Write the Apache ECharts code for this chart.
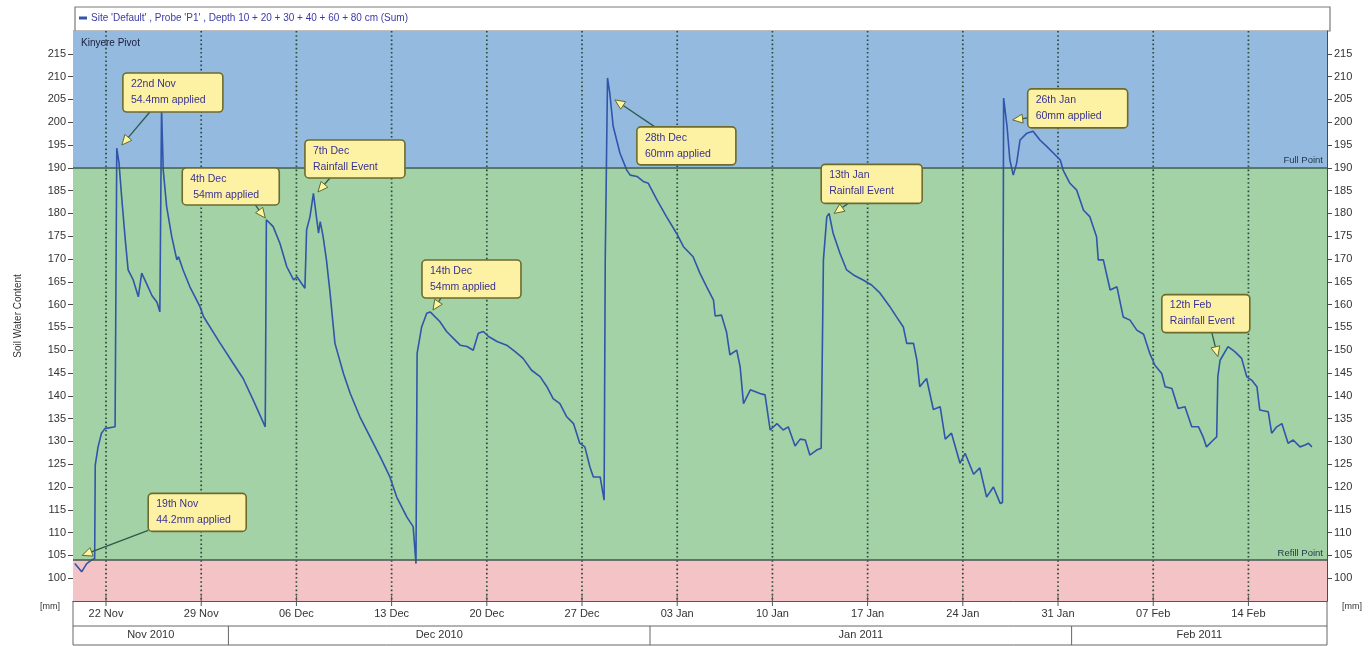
<!DOCTYPE html>
<html><head><meta charset="utf-8">
<script src="https://cdn.jsdelivr.net/npm/echarts@6/dist/echarts.min.js"></script>
<style>html,body{margin:0;padding:0;background:#fff}#c{width:1372px;height:646px}</style>
</head><body><div id="c"></div>
<script>
// ---------- data ----------
const swcTimes = [
'2010-11-19 17:00','2010-11-20 05:00','2010-11-20 14:00','2010-11-20 23:00','2010-11-21 04:00','2010-11-21 05:00','2010-11-21 10:00','2010-11-21 16:00','2010-11-21 22:00','2010-11-22 16:00',
'2010-11-22 18:00','2010-11-22 19:00','2010-11-22 23:00','2010-11-23 04:00','2010-11-23 10:00','2010-11-23 15:00','2010-11-24 00:00','2010-11-24 09:00','2010-11-24 15:00','2010-11-25 00:00',
'2010-11-25 09:00','2010-11-25 18:00','2010-11-25 23:00','2010-11-26 02:00','2010-11-26 05:00','2010-11-26 11:00','2010-11-26 20:00','2010-11-27 05:00','2010-11-27 08:00','2010-11-27 16:00',
'2010-11-28 04:00','2010-11-28 16:00','2010-11-28 22:00','2010-11-29 04:00','2010-11-30 09:00','2010-12-01 08:00','2010-12-02 02:00','2010-12-02 20:00','2010-12-03 17:00','2010-12-03 19:00',
'2010-12-04 07:00','2010-12-04 19:00','2010-12-05 07:00','2010-12-05 19:00','2010-12-06 01:00','2010-12-06 15:00','2010-12-06 18:00','2010-12-07 00:00','2010-12-07 06:00','2010-12-07 12:00',
'2010-12-07 15:00','2010-12-07 18:00','2010-12-07 23:00','2010-12-08 05:00','2010-12-08 11:00','2010-12-08 20:00','2010-12-09 11:00','2010-12-09 23:00','2010-12-10 16:00','2010-12-11 10:00',
'2010-12-12 04:00','2010-12-12 21:00','2010-12-13 09:00','2010-12-14 03:00','2010-12-14 14:00','2010-12-14 19:00','2010-12-14 21:00','2010-12-15 05:00','2010-12-15 14:00','2010-12-15 20:00',
'2010-12-16 13:00','2010-12-17 01:00','2010-12-17 13:00','2010-12-18 01:00','2010-12-18 13:00','2010-12-19 00:00','2010-12-19 09:00','2010-12-19 18:00','2010-12-20 03:00','2010-12-20 18:00',
'2010-12-21 11:00','2010-12-22 02:00','2010-12-22 16:00','2010-12-23 07:00','2010-12-23 22:00','2010-12-24 10:00','2010-12-24 21:00','2010-12-25 09:00','2010-12-25 21:00','2010-12-26 09:00',
'2010-12-26 20:00','2010-12-27 05:00','2010-12-27 14:00','2010-12-27 20:00','2010-12-28 08:00','2010-12-28 15:00','2010-12-28 17:00','2010-12-28 21:00','2010-12-29 01:00','2010-12-29 07:00',
'2010-12-29 19:00','2010-12-30 07:00','2010-12-30 13:00','2010-12-31 01:00','2010-12-31 12:00','2010-12-31 21:00','2011-01-01 12:00','2011-01-02 05:00','2011-01-02 23:00','2011-01-03 11:00',
'2011-01-04 04:00','2011-01-04 16:00','2011-01-05 04:00','2011-01-05 16:00','2011-01-05 19:00','2011-01-06 06:00','2011-01-06 15:00','2011-01-06 21:00','2011-01-07 09:00','2011-01-07 15:00',
'2011-01-07 21:00','2011-01-08 09:00','2011-01-09 02:00','2011-01-09 11:00','2011-01-09 20:00','2011-01-10 08:00','2011-01-10 19:00','2011-01-11 04:00','2011-01-11 16:00','2011-01-12 01:00',
'2011-01-12 10:00','2011-01-12 18:00','2011-01-13 06:00','2011-01-13 14:00','2011-01-13 18:00','2011-01-14 00:00','2011-01-14 04:00','2011-01-14 11:00','2011-01-14 23:00','2011-01-15 11:00',
'2011-01-15 23:00','2011-01-16 16:00','2011-01-17 07:00','2011-01-17 22:00','2011-01-18 15:00','2011-01-19 03:00','2011-01-19 15:00','2011-01-19 21:00','2011-01-20 09:00','2011-01-20 15:00',
'2011-01-20 20:00','2011-01-21 08:00','2011-01-21 20:00','2011-01-22 08:00','2011-01-22 17:00','2011-01-23 04:00','2011-01-23 19:00','2011-01-24 04:00','2011-01-24 19:00','2011-01-25 06:00',
'2011-01-25 18:00','2011-01-26 06:00','2011-01-26 18:00','2011-01-26 22:00','2011-01-27 00:00','2011-01-27 06:00','2011-01-27 11:00','2011-01-27 17:00','2011-01-27 23:00','2011-01-28 05:00',
'2011-01-28 17:00','2011-01-29 04:00','2011-01-29 16:00','2011-01-30 04:00','2011-01-30 16:00','2011-01-31 04:00','2011-01-31 09:00','2011-01-31 21:00','2011-02-01 09:00','2011-02-01 21:00',
'2011-02-02 08:00','2011-02-02 20:00','2011-02-02 23:00','2011-02-03 08:00','2011-02-03 20:00','2011-02-04 08:00','2011-02-04 19:00','2011-02-05 07:00','2011-02-05 19:00','2011-02-06 07:00',
'2011-02-06 18:00','2011-02-07 03:00','2011-02-07 15:00','2011-02-07 21:00','2011-02-08 09:00','2011-02-08 20:00','2011-02-09 08:00','2011-02-09 20:00','2011-02-10 08:00','2011-02-10 16:00',
'2011-02-10 22:00','2011-02-11 10:00','2011-02-11 16:00','2011-02-11 18:00','2011-02-11 22:00','2011-02-12 12:00','2011-02-13 00:00','2011-02-13 12:00','2011-02-13 21:00','2011-02-14 06:00',
'2011-02-14 15:00','2011-02-14 20:00','2011-02-15 11:00','2011-02-15 17:00','2011-02-16 02:00','2011-02-16 11:00','2011-02-16 22:00','2011-02-17 07:00','2011-02-17 19:00','2011-02-18 04:00',
'2011-02-18 10:00','2011-02-18 16:00'
];
const swcValues = [
103.2,101.4,103.2,104.0,104.3,124.8,128.8,131.8,132.8,133.2,
133.6,194.3,191.0,183.0,174.2,167.6,165.4,161.7,166.9,164.5,
162.0,160.5,158.4,203.0,189.5,181.5,174.9,169.8,170.5,167.6,
163.9,161.0,159.5,157.4,151.6,147.2,143.8,139.0,133.2,178.6,
177.1,173.4,168.3,165.4,166.1,163.6,176.4,179.3,184.4,178.6,
175.7,178.2,175.0,169.8,163.0,151.5,144.9,140.5,135.4,131.0,
126.6,122.2,117.8,113.4,111.3,103.2,149.3,155.1,158.1,158.4,
156.3,154.1,152.6,151.1,150.8,150.0,153.7,154.1,153.0,151.9,
151.1,149.7,148.2,145.6,144.2,142.0,139.4,138.3,135.4,133.9,
129.6,128.8,124.4,122.2,122.2,117.1,170.0,209.7,206.4,199.1,
193.2,189.5,188.4,188.1,187.0,186.6,183.0,179.3,175.6,172.7,
170.5,166.9,163.9,161.0,157.5,157.7,154.0,149.0,150.0,146.4,
138.3,141.3,140.5,140.2,132.5,133.9,132.5,133.2,129.0,130.5,
130.3,127.0,128.1,128.5,169.8,179.3,180.0,175.7,171.3,167.6,
166.5,165.4,164.3,162.5,159.6,157.3,155.1,151.5,151.5,147.8,
142.0,143.8,137.0,137.6,130.5,131.8,125.2,127.4,122.8,124.2,
117.8,120.0,116.4,116.6,205.3,199.1,191.7,188.4,191.0,196.1,
197.6,198.0,196.1,194.7,193.2,191.7,189.5,186.6,185.1,180.7,
179.3,174.9,169.8,169.8,163.2,163.9,157.3,156.6,154.4,153.5,
149.3,146.7,144.9,142.0,141.6,137.2,137.6,133.2,133.2,131.0,
128.8,130.3,131.0,144.2,147.8,150.8,149.7,148.2,144.2,143.4,
142.0,136.9,136.5,131.8,133.2,133.9,129.6,130.3,128.8,129.2,
129.6,128.8
];
const weekTicks = ['2010-11-22','2010-11-29','2010-12-06','2010-12-13','2010-12-20','2010-12-27','2011-01-03','2011-01-10','2011-01-17','2011-01-24','2011-01-31','2011-02-07','2011-02-14'];
const weekLabels = ['22 Nov','29 Nov','06 Dec','13 Dec','20 Dec','27 Dec','03 Jan','10 Jan','17 Jan','24 Jan','31 Jan','07 Feb','14 Feb'];
const monthStarts = ['2010-11-01','2010-12-01','2011-01-01','2011-02-01'];
const monthEnds = ['2010-12-01','2011-01-01','2011-02-01','2011-03-01'];
const monthLabels = ['Nov 2010','Dec 2010','Jan 2011','Feb 2011'];
const fullPoint = 190;
const refillPoint = 104;
const xRange = ['2010-11-19 13:45','2011-02-19 18:40'];
const yRange = [95, 220];
const annoTimes = ['2010-11-20 06:00','2010-11-23 04:00','2010-12-03 17:00','2010-12-07 14:00','2010-12-16 01:00','2010-12-29 10:00','2011-01-14 13:00','2011-01-27 16:00','2011-02-11 18:00'];
const annoValues = [105, 195, 179, 184.7, 158.8, 204.9, 180, 200.5, 148.6];
const annoTitles = ['19th Nov','22nd Nov','4th Dec','7th Dec','14th Dec','28th Dec','13th Jan','26th Jan','12th Feb'];
const annoTexts = ['44.2mm applied','54.4mm applied',' 54mm applied','Rainfall Event','54mm applied','60mm applied','Rainfall Event','60mm applied','Rainfall Event'];
const seriesName = "Site 'Default' , Probe 'P1' , Depth 10 + 20 + 30 + 40 + 60 + 80 cm (Sum)";

// ---------- layout (pixel offsets of callout boxes relative to their target point) ----------
const annoLayout = [
  {bx:66, by:-62, w:98, h:38, sx:66, sy:-25},
  {bx:1, by:-72, w:100, h:39, sx:28, sy:-33},
  {bx:-83, by:-50, w:97, h:37, sx:-10, sy:-13},
  {bx:-13, by:-52, w:100, h:38, sx:12, sy:-14},
  {bx:-11, by:-50, w:99, h:38, sx:8, sy:-12},
  {bx:22, by:27, w:99, h:38, sx:40, sy:27},
  {bx:-13, by:-49, w:101, h:39, sx:14, sy:-10},
  {bx:15, by:-31, w:100, h:39, sx:15, sy:-2},
  {bx:-56, by:-62, w:88, h:38, sx:-6, sy:-24}
];

function t(s){
  const parts = s.split(' ');
  const d = parts[0].split('-').map(Number);
  const h = (parts[1] || '00:00').split(':').map(Number);
  return new Date(d[0], d[1]-1, d[2], h[0], h[1]).getTime();
}
const FONT = 'Liberation Sans, Arial, sans-serif';
const lineData = swcTimes.map((s,i)=>[t(s), swcValues[i]]);

const chart = echarts.init(document.getElementById('c'), null, {renderer:'canvas'});
const yAxisBase = {
  type:'value', min:yRange[0], max:yRange[1], interval:5,
  axisLine:{show:true, lineStyle:{color:'#4a4a4a', width:1}},
  axisTick:{show:true, length:5, lineStyle:{color:'#4a4a4a'}},
  axisLabel:{showMinLabel:false, showMaxLabel:false, fontSize:11, color:'#333', fontFamily:FONT, margin:7},
  splitLine:{show:false}
};
const option = {
  animation:false,
  backgroundColor:'#fff',
  title:{text:'Kinyere Pivot', left:76, top:33, textStyle:{fontSize:10, fontWeight:'normal', color:'#1c1c3a', fontFamily:FONT}},
  legend:{left:79, top:13, icon:'rect', itemWidth:8, itemHeight:3, itemGap:4, padding:0,
    textStyle:{fontSize:10, color:'#3b3ba6', fontFamily:FONT, padding:[0,0,0,-1]}, data:[seriesName]},
  grid:{left:73, right:45, top:31, bottom:45, containLabel:false},
  xAxis:{type:'time', min:t(xRange[0]), max:t(xRange[1]),
    axisLine:{show:true, lineStyle:{color:'#555', width:1}}, axisTick:{show:false}, axisLabel:{show:false}, splitLine:{show:false}},
  yAxis:[
    Object.assign({}, yAxisBase, {position:'left', name:'Soil Water Content', nameLocation:'middle', nameGap:50,
      nameTextStyle:{fontSize:10, color:'#333', fontFamily:FONT}}),
    Object.assign({}, yAxisBase, {position:'right'})
  ],
  graphic:[
    {type:'rect', z:0, shape:{x:75, y:7, width:1255, height:24}, style:{fill:'#fff', stroke:'#7a7a7a', lineWidth:1.2}},
    {type:'rect', z:0, shape:{x:73, y:601, width:1254, height:44}, style:{fill:'none', stroke:'#666', lineWidth:1}},
    {type:'line', z:0, shape:{x1:73, y1:626, x2:1327, y2:626}, style:{stroke:'#666', lineWidth:1}},
    {type:'text', z:0, x:50, y:607, style:{text:'[mm]', fontSize:9, fill:'#333', align:'center', verticalAlign:'middle', fontFamily:FONT}},
    {type:'text', z:0, x:1352, y:607, style:{text:'[mm]', fontSize:9, fill:'#333', align:'center', verticalAlign:'middle', fontFamily:FONT}}
  ],
  series:[
    {
      name:seriesName, type:'line', data:lineData, z:3, showSymbol:false, symbol:'none',
      lineStyle:{color:'#3055aa', width:1.6}, itemStyle:{color:'#3055aa'},
      markArea:{silent:true, z:1, data:[
        [{yAxis:fullPoint, itemStyle:{color:'#94bae0'}}, {yAxis:yRange[1]}],
        [{yAxis:refillPoint, itemStyle:{color:'#a2d2a6'}}, {yAxis:fullPoint}],
        [{yAxis:yRange[0], itemStyle:{color:'#f4c3c6'}}, {yAxis:refillPoint}]
      ]},
      markLine:{silent:true, symbol:'none', z:4, lineStyle:{color:'#3e5a4c', width:1.6, type:'solid'},
        label:{position:'insideEndTop', fontSize:9.5, color:'#1f3549', fontFamily:FONT, distance:[4,2]},
        data:[
          {yAxis:fullPoint, label:{formatter:'Full Point'}},
          {yAxis:refillPoint, label:{formatter:'Refill Point'}}
        ]}
    },
    {
      type:'custom', z:2, silent:true,
      data:weekTicks.map(s=>[t(s), 150]), encode:{x:0, y:1},
      renderItem:function(params, api){
        const cs = params.coordSys;
        const x = api.coord([api.value(0), 150])[0];
        const yb = cs.y + cs.height;
        return {type:'group', children:[
          {type:'line', shape:{x1:x, y1:cs.y, x2:x, y2:yb}, style:{stroke:'#2b4a3a', lineWidth:1.7, lineDash:[1.6,2.6]}},
          {type:'line', shape:{x1:x, y1:yb-5, x2:x, y2:yb+5}, style:{stroke:'#555', lineWidth:1}},
          {type:'text', x:x, y:yb+13, style:{text:weekLabels[params.dataIndex], align:'center', verticalAlign:'middle', fontSize:11, fill:'#333', fontFamily:FONT}}
        ]};
      }
    },
    {
      type:'custom', z:2, silent:true,
      data:monthStarts.map((s,i)=>[t(s), t(monthEnds[i]), 150]), encode:{x:[0,1], y:2},
      renderItem:function(params, api){
        const cs = params.coordSys;
        let x0 = api.coord([api.value(0), 150])[0];
        let x1 = api.coord([api.value(1), 150])[0];
        const inside = x0 > cs.x + 1;
        x0 = Math.max(x0, cs.x); x1 = Math.min(x1, cs.x + cs.width);
        const yb = cs.y + cs.height;
        const ch = [{type:'text', x:(x0+x1)/2, y:yb+34, style:{text:monthLabels[params.dataIndex], align:'center', verticalAlign:'middle', fontSize:11, fill:'#333', fontFamily:FONT}}];
        if (inside) ch.push({type:'line', shape:{x1:x0, y1:yb+25, x2:x0, y2:yb+44}, style:{stroke:'#666', lineWidth:1}});
        return {type:'group', children:ch};
      }
    },
    {
      type:'custom', z:10, silent:true,
      data:annoTimes.map((s,i)=>[t(s), annoValues[i]]), encode:{x:0, y:1},
      renderItem:function(params, api){
        const i = params.dataIndex;
        const L = annoLayout[i];
        const p = api.coord([api.value(0), api.value(1)]);
        const sx = p[0] + L.sx, sy = p[1] + L.sy;
        const dx = p[0] - sx, dy = p[1] - sy;
        const len = Math.sqrt(dx*dx + dy*dy) || 1;
        const ux = dx/len, uy = dy/len;
        const hl = 10, hw = 4.5;
        const bx = p[0] - ux*hl, by = p[1] - uy*hl;
        const tri = [[p[0], p[1]], [bx - uy*hw, by + ux*hw], [bx + uy*hw, by - ux*hw]];
        const rx = p[0] + L.bx, ry = p[1] + L.by;
        return {type:'group', children:[
          {type:'line', shape:{x1:sx, y1:sy, x2:bx, y2:by}, style:{stroke:'#2f5a48', lineWidth:1.3}},
          {type:'polygon', shape:{points:tri}, style:{fill:'#fff4a0', stroke:'#5e6a2c', lineWidth:1}},
          {type:'rect', shape:{x:rx, y:ry, width:L.w, height:L.h, r:4}, style:{fill:'#fdf2a4', stroke:'#6d6b2c', lineWidth:1.6}},
          {type:'text', x:rx+8, y:ry+11, style:{text:annoTitles[i], fontSize:10.5, fill:'#3a3290', verticalAlign:'middle', fontFamily:FONT}},
          {type:'text', x:rx+8, y:ry+27, style:{text:annoTexts[i], fontSize:10.5, fill:'#3a3290', verticalAlign:'middle', fontFamily:FONT}}
        ]};
      }
    }
  ]
};
chart.setOption(option);
</script>
</body></html>
